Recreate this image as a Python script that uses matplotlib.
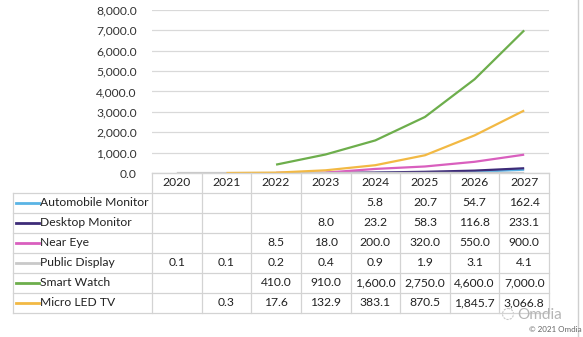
import numpy as np
import matplotlib
matplotlib.use("Agg")
import matplotlib.pyplot as plt

years = ["2020", "2021", "2022", "2023", "2024", "2025", "2026", "2027"]
series = ["Automobile Monitor", "Desktop Monitor", "Near Eye",
          "Public Display", "Smart Watch", "Micro LED TV"]
nan = np.nan
automobile = [nan, nan, nan, nan, 5.8, 20.7, 54.7, 162.4]
desktop = [nan, nan, nan, 8.0, 23.2, 58.3, 116.8, 233.1]
near_eye = [nan, nan, 8.5, 18.0, 200.0, 320.0, 550.0, 900.0]
public_display = [0.1, 0.1, 0.2, 0.4, 0.9, 1.9, 3.1, 4.1]
smart_watch = [nan, nan, 410.0, 910.0, 1600.0, 2750.0, 4600.0, 7000.0]
micro_led_tv = [nan, 0.3, 17.6, 132.9, 383.1, 870.5, 1845.7, 3066.8]
yticks = [0, 1000, 2000, 3000, 4000, 5000, 6000, 7000, 8000]

values = [automobile, desktop, near_eye, public_display, smart_watch, micro_led_tv]
colors = ["#5AB4E5", "#3D2B78", "#D95FBE", "#C9C9C9", "#6DAE4C", "#F2B944"]

plt.rcParams['font.family'] = ['Lato', 'DejaVu Sans']
W, H = 583, 337
fs = 8.7
fig = plt.figure(figsize=(W / 100, H / 100), dpi=100)

# pixel layout
left, right, top, bottom = 152, 549, 10, 173
ax = fig.add_axes([left / W, 1 - bottom / H, (right - left) / W, (bottom - top) / H])
x = np.arange(len(years))
ax.set_xlim(-0.5, len(years) - 0.5)
ax.set_ylim(0, 8000)
for vals, c in zip(values, colors):
    ax.plot(x, vals, color=c, lw=1.6, solid_capstyle='butt')
ax.set_yticks(yticks)
ax.set_yticklabels([f"{v:,.1f}" for v in yticks], fontsize=fs, color="#333333")
ax.yaxis.grid(True, color="#D9D9D9", lw=0.9)
ax.set_axisbelow(True)
ax.set_xticks([])
for s in ["top", "right", "left"]:
    ax.spines[s].set_visible(False)
ax.spines["bottom"].set_color("#D0D0D0")
ax.tick_params(axis='y', length=0, pad=11)

# table overlay in pixel coordinates
tab = fig.add_axes([0, 0, 1, 1])
tab.set_xlim(0, W)
tab.set_ylim(H, 0)
tab.axis("off")
colw = (right - left) / len(years)
rowh = 20
grid = dict(color="#D3D3D3", lw=0.9)
tleft = 13
# header row
for i, yr in enumerate(years):
    cx = left + colw * (i + 0.5)
    tab.text(cx, bottom + rowh / 2, yr, ha="center", va="center", fontsize=fs, color="#222222")
nrows = len(series)
ybot = bottom + rowh * (nrows + 1)
for i in range(len(years) + 1):
    tab.plot([left + colw * i] * 2, [bottom, ybot], **grid)
tab.plot([tleft, tleft], [bottom + rowh, ybot], **grid)
tab.plot([left, right], [bottom, bottom], **grid)
for r in range(1, nrows + 2):
    tab.plot([tleft, right], [bottom + rowh * r] * 2, **grid)
for r, (name, vals, c) in enumerate(zip(series, values, colors)):
    cy = bottom + rowh * (r + 1.5)
    tab.plot([16, 39], [cy, cy], color=c, lw=2)
    tab.text(40, cy, name, ha="left", va="center", fontsize=fs, color="#222222")
    for i, v in enumerate(vals):
        if not np.isnan(v):
            tab.text(left + colw * (i + 0.5), cy, f"{v:,.1f}", ha="center", va="center",
                     fontsize=fs, color="#222222")

# right border and watermark
tab.plot([578, 578], [0, H], color="#CFCFCF", lw=1)
tab.add_patch(plt.Circle((508, 314), 5.5, fill=False, ec="#C8C8C8", lw=0.8, ls=(0, (2, 1))))
tab.text(540, 315, "Omdia", ha="center", va="center", fontsize=11, color="#B5B5B5")
tab.text(582, 329, "\u00a9 2021 Omdia", ha="right", va="center", fontsize=5.8, color="#666666")

fig.savefig("out.png", dpi=100)
